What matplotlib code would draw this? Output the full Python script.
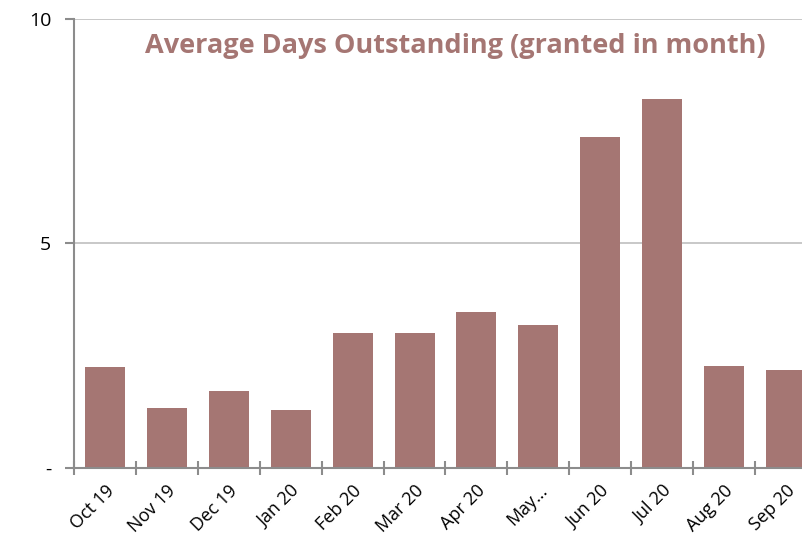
import matplotlib
matplotlib.use("Agg")
from matplotlib import pyplot as plt
import numpy as np

plt.rcParams['font.family'] = ['Open Sans', 'DejaVu Sans']

months = ["Oct 19", "Nov 19", "Dec 19", "Jan 20", "Feb 20", "Mar 20",
          "Apr 20", "May…", "Jun 20", "Jul 20", "Aug 20", "Sep 20"]
days = [2.25, 1.34, 1.71, 1.29, 3.0, 3.0, 3.47, 3.18, 7.37, 8.22, 2.27, 2.18]

bar_col = '#a57673'
axis_col = '#8c8c8c'

fig = plt.figure(figsize=(8.02, 5.38), dpi=100)
ax = fig.add_axes([74/802, 1-468/538, (817-74)/802, (468-19)/538])

x = np.arange(len(months))
ax.bar(x, days, width=0.645, color=bar_col, zorder=2)

ax.set_xlim(-0.5, len(months)-0.5)
ax.set_ylim(0, 10)
ax.set_yticks([0, 5, 10])
ax.set_yticklabels(['-', '5', '10'], fontsize=14)
ax.yaxis.grid(True, color='#bfbfbf', linewidth=1.2, zorder=0)

ax.set_xticks(x)
ax.set_xticklabels(months, rotation=45, ha='right', rotation_mode='anchor', fontsize=13)
ax.tick_params(axis='x', which='major', length=0, pad=10)
ax.set_xticks(np.arange(-0.5, len(months)), minor=True)
ax.tick_params(axis='x', which='minor', length=10, direction='inout', color=axis_col, width=1.5)
ax.tick_params(axis='y', length=6.5, color=axis_col, width=1.5, pad=10)

for s in ['top', 'right']:
    ax.spines[s].set_visible(False)
for s in ['left', 'bottom']:
    ax.spines[s].set_color(axis_col)
    ax.spines[s].set_linewidth(1.5)

fig.text(455/802, 1-46/538, 'Average Days Outstanding (granted in month)',
         ha='center', va='center', fontsize=19.5, fontweight='bold', color=bar_col)

fig.savefig('out.png', dpi=100)
